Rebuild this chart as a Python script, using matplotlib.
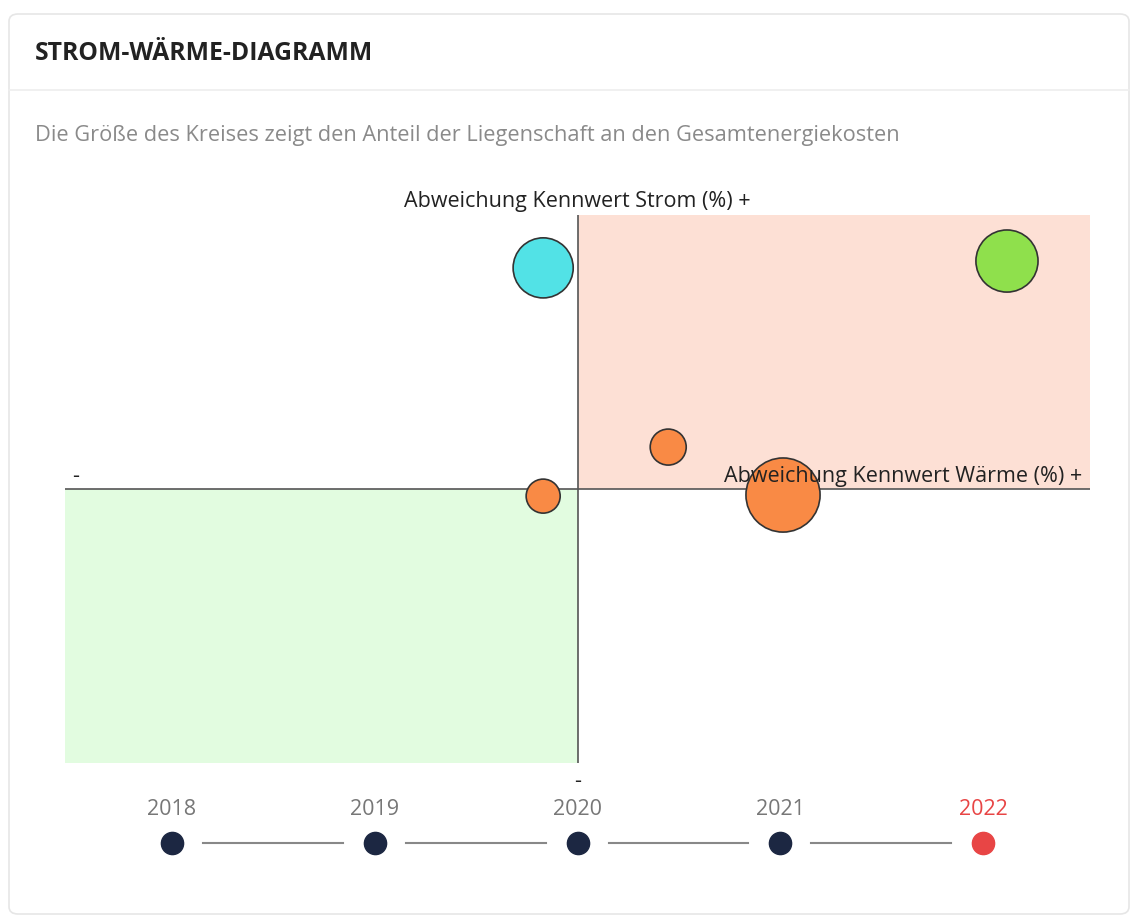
import matplotlib.pyplot as plt
from matplotlib.patches import FancyBboxPatch, Rectangle
from matplotlib.lines import Line2D

plt.rcParams['font.family'] = ['Open Sans', 'DejaVu Sans']

# Daten: Abweichung Kennwerte (%) und Anteil an Gesamtenergiekosten (%)
waerme = [-6.7, 83.8, 17.7, 40.1, -6.7]
strom = [80.7, 83.2, 15.3, -2.2, -2.6]
anteil = [23.4, 25.0, 8.4, 35.6, 7.5]
farben = ['#52e2e6', '#8fe04c', '#f98a45', '#f98a45', '#f98a45']

jahre = ['2018', '2019', '2020', '2021', '2022']
aktiv = '2022'

W, H = 1138, 918
fig = plt.figure(figsize=(W / 100, H / 100), dpi=100)
fig.patch.set_facecolor('white')

def fx(px):
    return px / W

def fy(py):
    return 1 - py / H

# Karte
card = FancyBboxPatch((fx(9), fy(914)), fx(1120), fy(14) - fy(914),
                      boxstyle='round,pad=0,rounding_size=0.008',
                      transform=fig.transFigure, facecolor='white',
                      edgecolor='#e6e6e6', linewidth=1.2, zorder=-2)
fig.patches.append(card)
fig.lines.append(Line2D([fx(9), fx(1129)], [fy(90), fy(90)], transform=fig.transFigure,
                        color='#eeeeee', linewidth=1.2, zorder=-1))

fig.text(fx(35), fy(53), 'STROM-WÄRME-DIAGRAMM', fontsize=17.8, fontweight='bold',
         color='#222222', va='center', ha='left')
fig.text(fx(35), fy(135), 'Die Größe des Kreises zeigt den Anteil der Liegenschaft an den Gesamtenergiekosten',
         fontsize=15.7, color='#8a8a8a', va='center', ha='left')

# Hauptdiagramm
ax = fig.add_axes([fx(65), fy(763), fx(1090) - fx(65), fy(215) - fy(763)])
ax.set_xlim(-100, 100)
ax.set_ylim(-100, 100)
ax.axis('off')

ax.add_patch(Rectangle((0, 0), 100, 100, facecolor='#fde0d5', edgecolor='none', zorder=0))
ax.add_patch(Rectangle((-100, -100), 100, 100, facecolor='#e2fce0', edgecolor='none', zorder=0))
ax.axhline(0, color='#555555', linewidth=1.2, zorder=1)
ax.axvline(0, color='#555555', linewidth=1.2, zorder=1)

sizes = [a * 80 for a in anteil]
ax.scatter(waerme, strom, s=sizes, c=farben, edgecolors='#333333', linewidths=1.2, zorder=3)

ax.text(0, 101, 'Abweichung Kennwert Strom (%) +', ha='center', va='bottom',
        fontsize=15.5, color='#222222', clip_on=False)
ax.text(98.5, 0.6, 'Abweichung Kennwert Wärme (%) +', ha='right', va='bottom',
        fontsize=15.5, color='#222222', zorder=4)
ax.text(-98, 0.8, '-', ha='center', va='bottom', fontsize=15.5, color='#222222')
ax.text(0, -103, '-', ha='center', va='top', fontsize=15.5, color='#222222', clip_on=False)

# Zeitleiste
tx = fig.add_axes([fx(65), fy(870), fx(1090) - fx(65), fy(790) - fy(870)])
tx.set_xlim(-0.528, 4.528)
tx.set_ylim(0, 1)
tx.axis('off')
for i, j in enumerate(jahre):
    col = '#e84545' if j == aktiv else '#1c2742'
    lcol = '#e84545' if j == aktiv else '#777777'
    tx.plot(i, 0.34, 'o', markersize=16, color=col, zorder=3)
    tx.text(i, 0.76, j, ha='center', va='center', fontsize=15.5, color=lcol)
    if i < len(jahre) - 1:
        tx.plot([i + 0.153, i + 0.843], [0.34, 0.34], color='#888888', linewidth=1.5)

fig.savefig('out.png', dpi=100)
